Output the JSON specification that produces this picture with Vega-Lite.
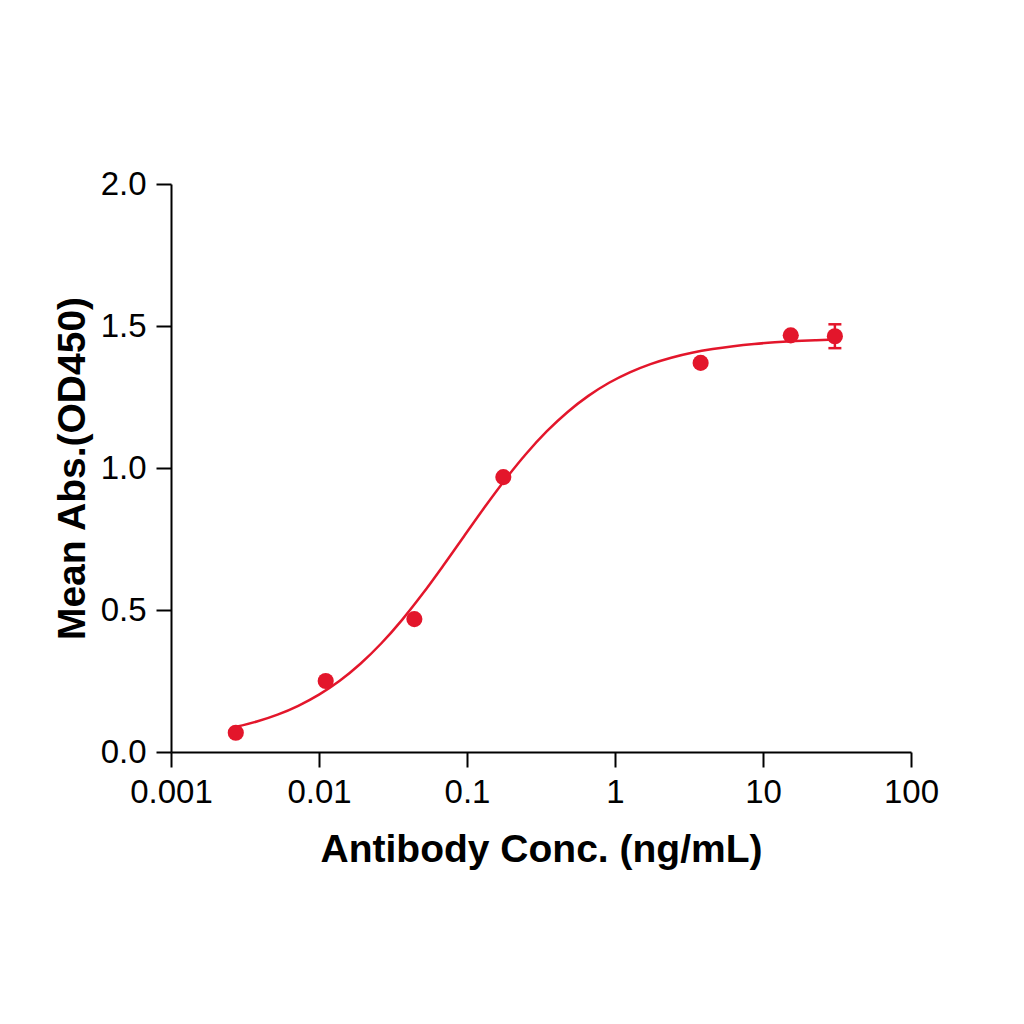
{
  "$schema": "https://vega.github.io/schema/vega-lite/v6.json",
  "autosize": "none",
  "padding": {"left": 171, "top": 184, "right": 113, "bottom": 272},
  "width": 740,
  "height": 568,
  "background": "white",
  "config": {
    "view": {"stroke": null},
    "font": "Liberation Sans",
    "axis": {
      "domainColor": "black",
      "domainWidth": 2,
      "tickColor": "black",
      "tickWidth": 2,
      "tickSize": 15,
      "grid": false,
      "labelFont": "Liberation Sans",
      "labelFontSize": 33,
      "labelColor": "black",
      "titleFont": "Liberation Sans",
      "titleFontSize": 39,
      "titleFontWeight": "bold",
      "titleColor": "black"
    }
  },
  "datasets": {
    "points": [
      {"conc": 0.00274, "od": 0.068},
      {"conc": 0.0111, "od": 0.25},
      {"conc": 0.0441, "od": 0.468},
      {"conc": 0.176, "od": 0.968},
      {"conc": 3.79, "od": 1.37},
      {"conc": 15.4, "od": 1.467},
      {"conc": 30.6, "od": 1.464, "lo": 1.422, "hi": 1.506}
    ],
    "curve": [
      {"conc": 0.002754, "od": 0.0888},
      {"conc": 0.003802, "od": 0.1075},
      {"conc": 0.005248, "od": 0.1317},
      {"conc": 0.007244, "od": 0.1628},
      {"conc": 0.01, "od": 0.2021},
      {"conc": 0.013804, "od": 0.251},
      {"conc": 0.019055, "od": 0.3108},
      {"conc": 0.026303, "od": 0.382},
      {"conc": 0.036308, "od": 0.4645},
      {"conc": 0.050119, "od": 0.5569},
      {"conc": 0.069183, "od": 0.6566},
      {"conc": 0.095499, "od": 0.7598},
      {"conc": 0.131826, "od": 0.8625},
      {"conc": 0.18197, "od": 0.9604},
      {"conc": 0.251189, "od": 1.0501},
      {"conc": 0.346737, "od": 1.1295},
      {"conc": 0.47863, "od": 1.1974},
      {"conc": 0.660693, "od": 1.254},
      {"conc": 0.912011, "od": 1.3001},
      {"conc": 1.258925, "od": 1.3369},
      {"conc": 1.737801, "od": 1.3659},
      {"conc": 2.398833, "od": 1.3884},
      {"conc": 3.311311, "od": 1.4057},
      {"conc": 4.570882, "od": 1.419},
      {"conc": 6.309573, "od": 1.4291},
      {"conc": 8.709636, "od": 1.4368},
      {"conc": 12.022644, "od": 1.4425},
      {"conc": 16.595869, "od": 1.4469},
      {"conc": 22.908677, "od": 1.4502},
      {"conc": 30.6, "od": 1.4525}
    ]
  },
  "encoding": {
    "x": {
      "field": "conc",
      "type": "quantitative",
      "scale": {"type": "log", "domain": [0.001, 100], "nice": false},
      "axis": {
        "title": "Antibody Conc. (ng/mL)",
        "values": [0.001, 0.01, 0.1, 1, 10, 100],
        "format": "~g",
        "labelPadding": 9,
        "titlePadding": 21,
        "labelFlush": false
      }
    },
    "y": {
      "field": "od",
      "type": "quantitative",
      "scale": {"domain": [0, 2], "nice": false, "zero": true},
      "axis": {
        "title": "Mean Abs.(OD450)",
        "values": [0, 0.5, 1, 1.5, 2],
        "format": ".1f",
        "labelPadding": 10,
        "titlePadding": 8,
        "labelFlush": false
      }
    }
  },
  "layer": [
    {
      "data": {"name": "curve"},
      "mark": {"type": "line", "color": "#E3162B", "strokeWidth": 2.5, "interpolate": "monotone"}
    },
    {
      "data": {"name": "points"},
      "transform": [{"filter": "datum.lo != null"}],
      "mark": {"type": "rule", "color": "#E3162B", "strokeWidth": 2.5},
      "encoding": {
        "y": {"field": "lo", "type": "quantitative"},
        "y2": {"field": "hi"}
      }
    },
    {
      "data": {"name": "points"},
      "transform": [{"filter": "datum.lo != null"}],
      "mark": {"type": "tick", "orient": "horizontal", "color": "#E3162B", "size": 13, "thickness": 2.5, "opacity": 1},
      "encoding": {"y": {"field": "lo", "type": "quantitative"}}
    },
    {
      "data": {"name": "points"},
      "transform": [{"filter": "datum.hi != null"}],
      "mark": {"type": "tick", "orient": "horizontal", "color": "#E3162B", "size": 13, "thickness": 2.5, "opacity": 1},
      "encoding": {"y": {"field": "hi", "type": "quantitative"}}
    },
    {
      "data": {"name": "points"},
      "mark": {"type": "circle", "color": "#E3162B", "size": 260, "opacity": 1}
    }
  ]
}
